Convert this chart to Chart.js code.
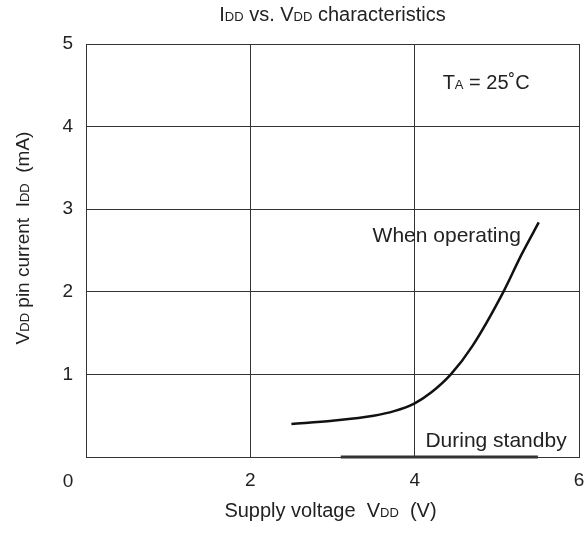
<!DOCTYPE html>
<html>
<head>
<meta charset="utf-8">
<script src="https://cdn.jsdelivr.net/npm/chart.js@4/dist/chart.umd.min.js"></script>
<style>
  html, body { margin: 0; padding: 0; background: #fff; }
  canvas { display: block; }
</style>
</head>
<body>
<canvas id="graph" width="587" height="535"></canvas>
<script>
var operatingV = [2.5, 3.0, 3.5, 3.75, 4.0, 4.2, 4.44, 4.7, 5.08, 5.3, 5.51];
var operatingI = [0.40, 0.44, 0.50, 0.555, 0.65, 0.78, 1.0, 1.34, 2.0, 2.45, 2.84];
var standbyV = [3.1, 5.5];
var standbyI = [0, 0];

var xTicks = [0, 2, 4, 6];
var yTicks = [1, 2, 3, 4, 5];

var FONT = '"Liberation Sans", Arial, Helvetica, sans-serif';
var ink = '#222';

function pts(xs, ys) {
  return xs.map(function (x, i) { return { x: x, y: ys[i] }; });
}

// draws text made of parts with different sizes, all on one baseline
function richText(ctx, parts, x, y, align) {
  var w = 0;
  parts.forEach(function (p) {
    ctx.font = p[1] + 'px ' + FONT;
    w += ctx.measureText(p[0]).width;
  });
  var cx = align == 'center' ? x - w / 2 : x;
  ctx.textAlign = 'left';
  parts.forEach(function (p) {
    ctx.font = p[1] + 'px ' + FONT;
    ctx.fillText(p[0], cx, y);
    cx += ctx.measureText(p[0]).width;
  });
}

const textPlugin = {
  id: 'texts',
  afterDraw(chart) {
    const ctx = chart.ctx;
    const xs = chart.scales.x, ys = chart.scales.y;
    const area = chart.chartArea;
    const mid = (area.left + area.right) / 2;
    ctx.save();
    ctx.fillStyle = ink;
    ctx.textBaseline = 'alphabetic';

    // title
    richText(ctx, [['I', 20], ['DD', 13], [' vs. V', 20], ['DD', 13], [' characteristics', 20]], mid, 21, 'center');

    // x axis title
    richText(ctx, [['Supply voltage  V', 20], ['DD', 13], ['  (V)', 20]], mid - 2, 517, 'center');

    // y axis title
    ctx.save();
    ctx.translate(29, 238);
    ctx.rotate(-Math.PI / 2);
    richText(ctx, [['V', 19], ['DD', 13], [' pin current  I', 19], ['DD', 13], ['  (mA)', 19]], 0, 0, 'center');
    ctx.restore();

    // corner zero
    ctx.font = '19px ' + FONT;
    ctx.textAlign = 'center';
    ctx.fillText('0', xs.getPixelForValue(0) - 18, 487);

    // annotations
    richText(ctx, [['When operating', 21]], xs.getPixelForValue(4.39), ys.getPixelForValue(2.69) + 7, 'center');
    richText(ctx, [['During standby', 21]], xs.getPixelForValue(4.99), ys.getPixelForValue(0.2) + 7, 'center');
    richText(ctx, [['T', 20], ['A', 13], [' = 25', 20], ['˚', 20], ['C', 20]], xs.getPixelForValue(4.87), ys.getPixelForValue(4.54) + 7, 'center');
    ctx.restore();
  }
};

const config = {
  type: 'scatter',
  data: {
    datasets: [{
      label: 'When operating',
      data: pts(operatingV, operatingI),
      showLine: true,
      cubicInterpolationMode: 'monotone',
      borderColor: '#111',
      borderWidth: 2.5,
      pointRadius: 0
    },
    {
      label: 'During standby',
      data: pts(standbyV, standbyI),
      showLine: true,
      borderColor: '#333',
      borderWidth: 3,
      pointRadius: 0,
      clip: false
    }]
  },
  options: {
    responsive: false,
    animation: false,
    layout: { padding: { top: 44, right: 8, left: 0, bottom: 0 } },
    plugins: {
      legend: { display: false },
      tooltip: { enabled: false },
      title: { display: false }
    },
    scales: {
      x: {
        type: 'linear',
        min: 0, max: 6,
        afterFit: function (s) { s.height = 78; s.paddingLeft = 0; s.paddingRight = 0; },
        afterBuildTicks: function (s) { s.ticks = xTicks.map(function (v) { return { value: v }; }); },
        ticks: {
          padding: 12,
          color: ink,
          font: { family: FONT, size: 19 },
          maxRotation: 0,
          callback: function (v) { return v == 0 ? '' : String(v); }
        },
        grid: { color: '#333', lineWidth: 1, drawTicks: false },
        border: { color: '#333', width: 1 }
      },
      y: {
        type: 'linear',
        min: 0, max: 5,
        afterFit: function (s) { s.width = 86; s.paddingTop = 0; s.paddingBottom = 0; },
        afterBuildTicks: function (s) { s.ticks = [0].concat(yTicks).map(function (v) { return { value: v }; }); },
        ticks: {
          padding: 13,
          color: ink,
          font: { family: FONT, size: 19 },
          callback: function (v) { return v == 0 ? '' : String(v); }
        },
        grid: { color: '#333', lineWidth: 1, drawTicks: false },
        border: { color: '#333', width: 1 }
      }
    }
  },
  plugins: [textPlugin]
};

const chart = new Chart(document.getElementById('graph'), config);
</script>
</body>
</html>
